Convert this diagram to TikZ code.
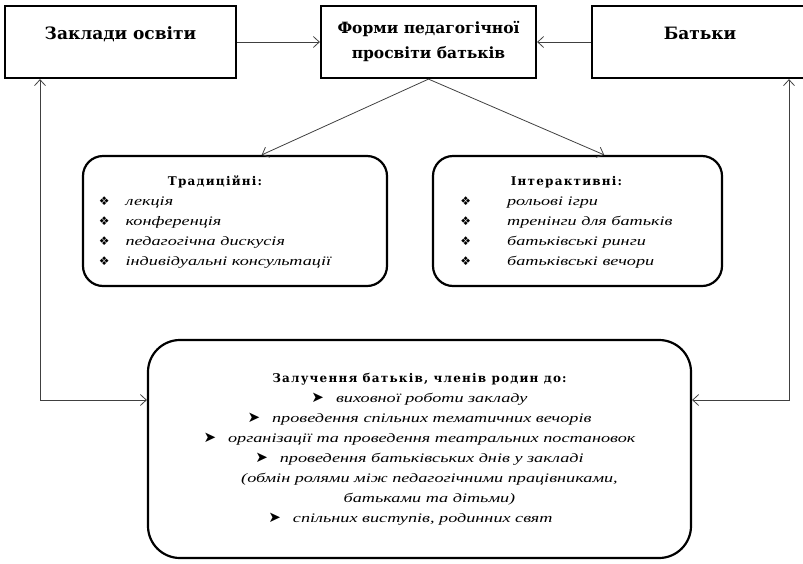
\documentclass[tikz,border=0pt]{standalone}
\usepackage{fontspec}
\setmainfont{DejaVu Serif}
\newfontfamily\listfont[FakeStretch=1.4]{Liberation Serif}
\newfontfamily\symbfont{DejaVu Sans}
\newfontfamily\spacedfont[LetterSpace=10]{DejaVu Serif}
\usepackage{tikz}
\usetikzlibrary{arrows.meta}

\newcommand{\diabullet}{{\symbfont\fontsize{12}{12}\selectfont ❖}}
\newcommand{\arrbullet}{{\symbfont\fontsize{15}{15}\selectfont ➤}}

\begin{document}
\begin{tikzpicture}[x=1pt,y=-1pt,
  >={Straight Barb[length=6pt,width=11pt]},
  topbox/.style={draw,line width=2.2pt,minimum height=72pt,inner sep=0pt,
    align=center,font=\bfseries\fontsize{15.5}{25}\selectfont},
  roundbox/.style={draw,line width=2.2pt,rounded corners=20pt,inner sep=0pt},
  link/.style={draw=black!75,line width=0.8pt}]
  \useasboundingbox (0,0) rectangle (803,563);
  \clip (0,0) rectangle (803,563);

  \node[topbox,minimum width=231pt,text height=11pt,text depth=17pt,
    font=\bfseries\fontsize{17}{25}\selectfont] (zaklady) at (120.5,42) {Заклади освіти};
  \node[topbox,minimum width=215pt] (formy) at (428.5,42) {Форми педагогічної\\просвіти батьків};
  \node[topbox,minimum width=230pt,text height=11pt,text depth=17pt,
    font=\bfseries\fontsize{17}{25}\selectfont] (batky) at (707,42) {Батьки\hspace*{14pt}};

  \node[roundbox,minimum width=304pt,minimum height=130pt] (trad) at (235,221)
  {\fontsize{13}{20}\selectfont
   \begin{tabular}{@{}l@{\hspace{16pt}}l@{}}
     \multicolumn{2}{c}{\spacedfont\bfseries\fontsize{12}{20}\selectfont Традиційні:}\\
     \diabullet & \listfont\itshape лекція\\
     \diabullet & \listfont\itshape конференція\\
     \diabullet & \listfont\itshape педагогічна дискусія\\
     \diabullet & \listfont\itshape індивідуальні консультації
   \end{tabular}\hspace*{40pt}};
  \node[roundbox,minimum width=289pt,minimum height=130pt] (inter) at (577.5,221)
  {\fontsize{13}{20}\selectfont
   \begin{tabular}{@{}l@{\hspace{36pt}}l@{}}
     \multicolumn{2}{c}{\spacedfont\bfseries\fontsize{12}{20}\selectfont Інтерактивні:}\\
     \diabullet & \listfont\itshape рольові ігри\\
     \diabullet & \listfont\itshape тренінги для батьків\\
     \diabullet & \listfont\itshape батьківські ринги\\
     \diabullet & \listfont\itshape батьківські вечори
   \end{tabular}\hspace*{22pt}};

  \node[roundbox,rounded corners=32pt,minimum width=543pt,minimum height=218pt,align=center,
    font=\listfont\itshape\fontsize{13}{20}\selectfont] (bottom) at (419.5,449)
  {{\spacedfont\upshape\bfseries\fontsize{12}{20}\selectfont Залучення батьків, членів родин до:}\\
   \arrbullet\hspace{12pt}виховної роботи закладу\hspace*{18pt}\\
   \arrbullet\hspace{12pt}проведення спільних тематичних вечорів\hspace*{18pt}\\
   \arrbullet\hspace{12pt}організації та проведення театральних постановок\hspace*{18pt}\\
   \arrbullet\hspace{12pt}проведення батьківських днів у закладі\hspace*{18pt}\\
   \hspace*{20pt}(обмін ролями між педагогічними працівниками,\\
   \hspace*{20pt}батьками та дітьми)\\
   \arrbullet\hspace{12pt}спільних виступів, родинних свят\hspace*{18pt}};

  \coordinate (lturn) at (40,400);
  \coordinate (rturn) at (789,400);

  \draw[link,->] (zaklady) -- (formy);
  \draw[link,->] (batky) -- (formy);
  \draw[link,->] (formy.south) -- (trad.68);
  \draw[link,->] (formy.south) -- (inter.68);
  \draw[link,<->] (zaklady.south -| lturn) -- (lturn) -- (bottom.west |- lturn);
  \draw[link,<->] (batky.south -| rturn) -- (rturn) -- (bottom.east |- rturn);
\end{tikzpicture}
\end{document}
